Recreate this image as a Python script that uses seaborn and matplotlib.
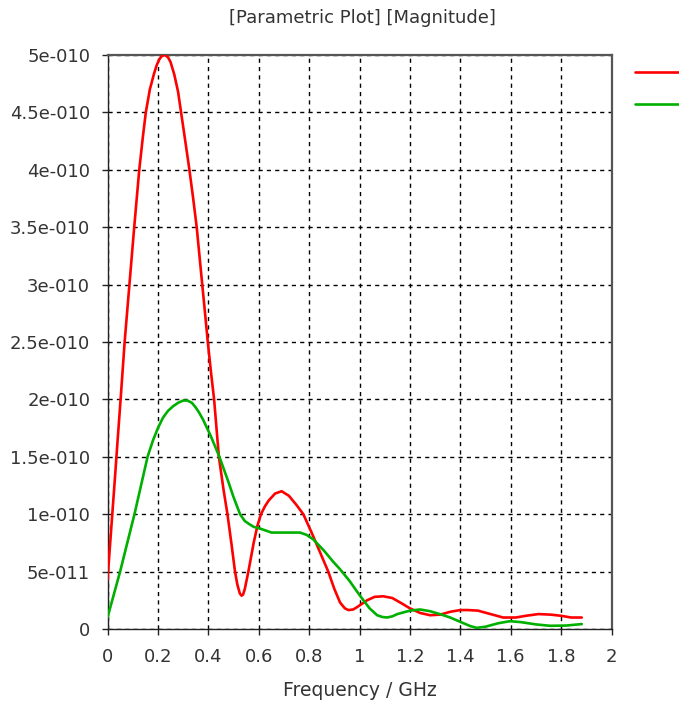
import numpy as np
import pandas as pd
import matplotlib
matplotlib.use("Agg")
import matplotlib.pyplot as plt
from matplotlib.lines import Line2D
import seaborn as sns

# Frequency samples (GHz) and magnitudes (units of 1e-10) for the two traces
red_freq = [0.0, 0.01, 0.02, 0.03, 0.04, 0.052, 0.068, 0.087, 0.106, 0.116, 0.126,
            0.14, 0.152, 0.168, 0.185, 0.195, 0.205, 0.215, 0.228, 0.24, 0.25, 0.265,
            0.28, 0.292, 0.308, 0.325, 0.34, 0.354, 0.376, 0.388, 0.398, 0.41, 0.423,
            0.442, 0.46, 0.476, 0.492, 0.506, 0.515, 0.525, 0.532, 0.538, 0.545, 0.559,
            0.58, 0.595, 0.609, 0.625, 0.64, 0.665, 0.691, 0.72, 0.75, 0.777, 0.81,
            0.845, 0.876, 0.90, 0.923, 0.942, 0.956, 0.975, 0.99, 1.01, 1.03, 1.06,
            1.094, 1.13, 1.17, 1.20, 1.24, 1.28, 1.32, 1.36, 1.40, 1.43, 1.47, 1.52,
            1.57, 1.62, 1.66, 1.71, 1.76, 1.80, 1.84, 1.882]
red_mag = [0.43, 0.73, 1.03, 1.33, 1.64, 2.0, 2.5, 3.0, 3.5, 3.75, 4.0,
           4.28, 4.5, 4.7, 4.84, 4.91, 4.96, 4.99, 5.0, 4.98, 4.94, 4.83,
           4.68, 4.5, 4.26, 4.0, 3.75, 3.5, 3.0, 2.73, 2.5, 2.25, 2.0,
           1.5, 1.22, 1.0, 0.74, 0.5, 0.39, 0.31, 0.29, 0.3, 0.35, 0.5,
           0.75, 0.9, 1.0, 1.07, 1.12, 1.18, 1.2, 1.16, 1.08, 1.0, 0.84,
           0.66, 0.5, 0.35, 0.23, 0.18, 0.165, 0.17, 0.19, 0.22, 0.25, 0.28,
           0.285, 0.27, 0.22, 0.18, 0.14, 0.12, 0.125, 0.15, 0.165, 0.165, 0.16, 0.13,
           0.10, 0.10, 0.115, 0.13, 0.125, 0.115, 0.10, 0.10]

green_freq = [0.0, 0.05, 0.107, 0.159, 0.18, 0.20, 0.22, 0.24, 0.26, 0.28, 0.30,
              0.317, 0.335, 0.35, 0.365, 0.38, 0.41, 0.444, 0.48, 0.50, 0.526, 0.545,
              0.565, 0.58, 0.605, 0.651, 0.70, 0.764, 0.79, 0.817, 0.86, 0.896, 0.923,
              0.96, 1.002, 1.04, 1.07, 1.09, 1.108, 1.13, 1.15, 1.20, 1.24, 1.28, 1.319,
              1.36, 1.399, 1.44, 1.465, 1.50, 1.55, 1.597, 1.64, 1.70, 1.756, 1.82, 1.882]
green_mag = [0.1, 0.5, 1.0, 1.5, 1.64, 1.75, 1.84, 1.9, 1.94, 1.97, 1.99,
             1.99, 1.97, 1.93, 1.88, 1.82, 1.68, 1.5, 1.28, 1.15, 1.0, 0.94,
             0.91, 0.89, 0.875, 0.84, 0.84, 0.84, 0.82, 0.78, 0.68, 0.585, 0.52,
             0.42, 0.29, 0.18, 0.12, 0.105, 0.10, 0.11, 0.13, 0.16, 0.17, 0.155, 0.13,
             0.10, 0.063, 0.025, 0.01, 0.02, 0.05, 0.068, 0.06, 0.04, 0.028, 0.03, 0.043]

x_ticks = [0, 0.2, 0.4, 0.6, 0.8, 1.0, 1.2, 1.4, 1.6, 1.8, 2.0]
x_tick_labels = ["0", "0.2", "0.4", "0.6", "0.8", "1", "1.2", "1.4", "1.6", "1.8", "2"]
y_ticks = [0, 0.5, 1.0, 1.5, 2.0, 2.5, 3.0, 3.5, 4.0, 4.5, 5.0]
y_tick_labels = ["0", "5e-011", "1e-010", "1.5e-010", "2e-010", "2.5e-010",
                 "3e-010", "3.5e-010", "4e-010", "4.5e-010", "5e-010"]

series_colors = {"red": "#ff0000", "green": "#00b000"}

df = pd.concat([
    pd.DataFrame({"freq": red_freq, "mag": np.array(red_mag) * 1e-10, "series": "red"}),
    pd.DataFrame({"freq": green_freq, "mag": np.array(green_mag) * 1e-10, "series": "green"}),
], ignore_index=True)

sns.set_style("white")
plt.rcParams["font.family"] = ["DejaVu Sans"]

fig = plt.figure(figsize=(6.79, 7.02), dpi=100)
ax = fig.add_axes([107.5 / 679, 1 - 629 / 702, (611.5 - 107.5) / 679, (629 - 55) / 702])

sns.lineplot(data=df, x="freq", y="mag", hue="series", palette=series_colors,
             sort=False, estimator=None, linewidth=1.9, legend=False, ax=ax, zorder=3)

ax.set_xlim(0, 2)
ax.set_ylim(0, 5e-10)
ax.set_xticks(x_ticks)
ax.set_xticklabels(x_tick_labels)
ax.set_yticks([v * 1e-10 for v in y_ticks])
ax.set_yticklabels(y_tick_labels)

ax.grid(True, color="black", linestyle=(0, (3, 3)), linewidth=1.0)
ax.tick_params(axis="both", direction="out", length=4.5, width=1.0, colors="#222222",
               labelsize=13, labelcolor="#333333", left=True, bottom=True)
ax.tick_params(axis="x", pad=9)
ax.tick_params(axis="y", pad=8)

for side in ["left", "bottom"]:
    ax.spines[side].set_color("#222222")
    ax.spines[side].set_linewidth(1.0)
for side in ["top", "right"]:
    ax.spines[side].set_color("#555555")
    ax.spines[side].set_linewidth(1.6)

ax.set_xlabel("Frequency / GHz", fontsize=13.5, color="#333333", labelpad=11)
ax.set_ylabel("")

fig.text(362 / 679, 1 - 18 / 702, "[Parametric Plot] [Magnitude]", ha="center",
         va="center", fontsize=13, color="#333333")

# Legend keys without labels
for y_px, name in [(72, "red"), (104, "green")]:
    fig.add_artist(Line2D([635 / 679, 1.0], [1 - y_px / 702] * 2,
                          color=series_colors[name], linewidth=1.9))

fig.savefig("out.png", dpi=100)
